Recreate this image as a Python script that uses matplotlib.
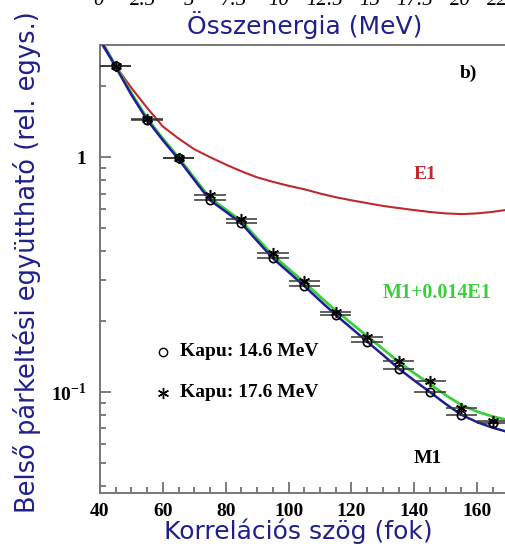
import numpy as np
import matplotlib
matplotlib.use("Agg")
import matplotlib.pyplot as plt
from matplotlib.ticker import MultipleLocator, FixedLocator, FixedFormatter, FuncFormatter, LogLocator, NullFormatter

plt.rcParams['mathtext.fontset'] = 'custom'
plt.rcParams['mathtext.rm'] = 'Liberation Serif:bold'
plt.rcParams['mathtext.bf'] = 'Liberation Serif:bold'

# theoretical curves, angle in degrees
angle = [40, 45, 50, 55, 60, 65, 70, 75, 80, 85, 90, 95, 100, 105, 110,
         115, 120, 125, 130, 135, 140, 145, 150, 155, 160, 165, 170, 175, 180]
m1 = [3.16, 2.42, 1.84, 1.44, 1.18, 0.98, 0.80, 0.656, 0.586, 0.522, 0.44, 0.371, 0.324, 0.283, 0.245,
      0.213, 0.187, 0.164, 0.144, 0.126, 0.112, 0.100, 0.089, 0.080, 0.0745, 0.0705, 0.0675, 0.066, 0.065]
e1 = [3.10, 2.44, 1.97, 1.62, 1.35, 1.20, 1.08, 1.00, 0.93, 0.87, 0.82, 0.785, 0.755, 0.73, 0.70,
      0.675, 0.655, 0.637, 0.62, 0.607, 0.595, 0.584, 0.576, 0.572, 0.576, 0.585, 0.598, 0.61, 0.62]
mix_frac = 0.014

# measured points for the two energy gates
meas_angle = [45, 55, 65, 75, 85, 95, 105, 115, 125, 135, 145, 155, 165]
gate146 = [2.44, 1.44, 0.987, 0.656, 0.522, 0.371, 0.283, 0.213, 0.164, 0.126, 0.100, 0.080, 0.0738]
gate176 = [2.44, 1.45, 0.99, 0.689, 0.543, 0.392, 0.297, 0.220, 0.172, 0.1355, 0.111, 0.0855, 0.0755]
angle_err = 5

energy_ticks = [0, 2.5, 5, 7.5, 10, 12.5, 15, 17.5, 20, 22.5]

navy = '#20208c'
c_blue = '#1e1e9a'
c_red = '#c0282d'
c_green = '#3ccf3c'

fig = plt.figure(figsize=(5.05, 5.46), dpi=100)
ax = fig.add_axes([100 / 505, 53 / 546, 440 / 505, 448 / 546])

mix = np.array(m1) + mix_frac * np.array(e1)
ax.plot(angle, e1, color=c_red, lw=1.5, zorder=2)
ax.plot(angle, mix, color=c_green, lw=2.0, zorder=3)
ax.plot(angle, m1, color=c_blue, lw=1.8, zorder=4)

ax.errorbar(meas_angle, gate146, xerr=angle_err, fmt='o', mfc='none', mec='black', mew=1.2, ms=6,
            ecolor='#333333', elinewidth=1.1, capsize=0, zorder=5)
ax.errorbar(meas_angle, gate176, xerr=angle_err, fmt='none', ecolor='#333333', elinewidth=1.1,
            capsize=0, zorder=5)
ax.plot(meas_angle, gate176, ls='none', marker=(6, 2, 0), color='black', ms=8, mew=1.1, zorder=6)

ax.set_yscale('log')
ax.set_xlim(40, 180)
ax.set_ylim(0.0372, 3.0)

ax.xaxis.set_major_locator(MultipleLocator(20))
ax.xaxis.set_minor_locator(MultipleLocator(5))
ax.yaxis.set_major_locator(FixedLocator([0.1, 1]))
ax.yaxis.set_major_formatter(FixedFormatter([r'$10^{-1}$', '1']))
ax.yaxis.set_minor_locator(LogLocator(base=10, subs=np.arange(2, 10)))
ax.yaxis.set_minor_formatter(NullFormatter())

ax.tick_params(which='both', direction='in', top=False, right=False, color='#666666', width=1.2)
ax.tick_params(which='major', length=8)
ax.tick_params(which='minor', length=4)
ax.tick_params(axis='x', pad=7)
ax.tick_params(axis='y', pad=10)
for lab in ax.get_xticklabels() + ax.get_yticklabels():
    lab.set_family('Liberation Serif')
    lab.set_weight('bold')
    lab.set_fontsize(14)

for sp in ax.spines.values():
    sp.set_color('#777777')
    sp.set_linewidth(1.4)

ax.set_xlabel('Korrelációs szög (fok)', color=navy, fontsize=18)
ax.xaxis.set_label_coords(0.45, -0.058)
ax.set_ylabel('Belső párkeltési együttható (rel. egys.)', color=navy, fontsize=18.5)
ax.yaxis.set_label_coords(-0.135, 0.516)

serif_bold = dict(family='Liberation Serif', weight='bold')
fig.text(468 / 505, 473 / 546, 'b)', fontsize=14, ha='center', va='center', **serif_bold)
ax.text(0.739, 0.71, 'E1', transform=ax.transAxes, color=c_red, fontsize=14, ha='center', va='center', **serif_bold)
ax.text(0.766, 0.446, 'M1+0.014E1', transform=ax.transAxes, color=c_green, fontsize=14.5, ha='center', va='center', **serif_bold)
ax.text(0.745, 0.076, 'M1', transform=ax.transAxes, color='black', fontsize=14, ha='center', va='center', **serif_bold)

# legend drawn as marker + text
ax.plot([0.143], [0.315], transform=ax.transAxes, marker='o', mfc='none', mec='black', ms=6, mew=1.0)
ax.text(0.182, 0.315, 'Kapu: 14.6 MeV', transform=ax.transAxes, fontsize=14, va='center', **serif_bold)
ax.plot([0.143], [0.224], transform=ax.transAxes, marker=(6, 2, 0), color='black', ms=8, mew=1.0)
ax.text(0.182, 0.224, 'Kapu: 17.6 MeV', transform=ax.transAxes, fontsize=14, va='center', **serif_bold)

# energy axis of the panel above, only its bottom edge shows
ax_top = fig.add_axes([98 / 505, 1.022, 453 / 505, 0.3])
ax_top.set_xlim(0, 25)
ax_top.set_xticks(energy_ticks)
ax_top.xaxis.set_major_formatter(FuncFormatter(lambda v, p: '%g' % v))
ax_top.tick_params(axis='x', length=0, pad=2)
ax_top.set_yticks([])
for sp in ax_top.spines.values():
    sp.set_visible(False)
for lab in ax_top.get_xticklabels():
    lab.set_family('Liberation Serif')
    lab.set_style('italic')
    lab.set_fontsize(15)
ax_top.set_xlabel('Összenergia (MeV)', color=navy, fontsize=18)
ax_top.xaxis.set_label_coords((305 - 98) / 453, -0.142)

fig.savefig('out.png', dpi=100)
